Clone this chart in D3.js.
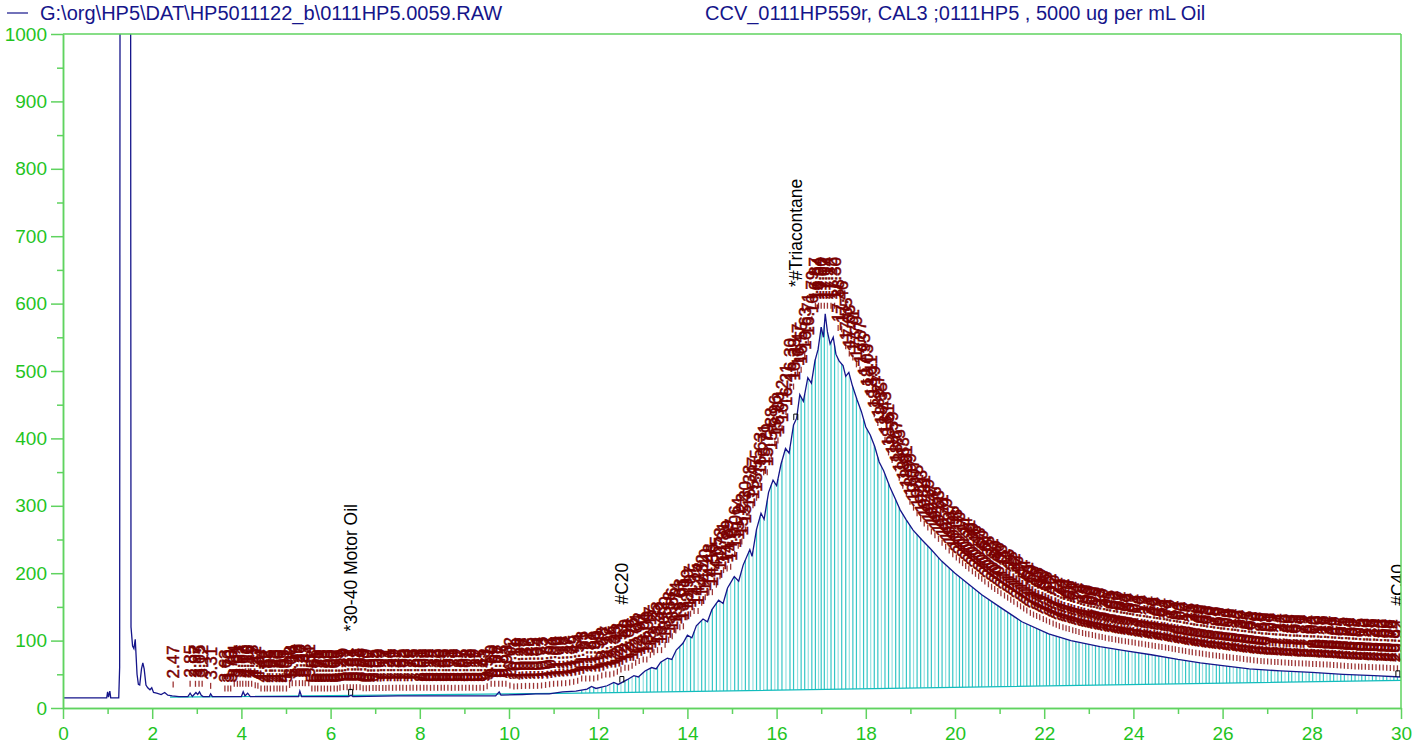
<!DOCTYPE html>
<html>
<head>
<meta charset="utf-8">
<title>Chromatogram</title>
<script src="https://d3js.org/d3.v7.min.js"></script>
<style>
  body { margin: 0; background: #fff; }
  text { font-family: "Liberation Sans", Arial, Helvetica, sans-serif; }
</style>
</head>
<body>
<svg id="chart" width="1424" height="747"></svg>
<script>
// detector signal: [minutes, response]
const signal = [
  [0,15],[0.98,15],[1.00,24],[1.02,16],[1.05,25],[1.07,15],[1.25,15],[1.27,60],[1.28,1200],[1.515,1200],
  [1.525,120],[1.56,92],[1.59,88],[1.62,102],[1.66,50],[1.69,35],[1.72,34],[1.76,58],[1.79,67],[1.82,58],
  [1.86,34],[1.9,30],[1.95,27],[1.99,30],[2.03,23],[2.1,22],[2.2,20],[2.28,23],[2.35,19],[2.45,18],
  [2.6,17],[2.8,17],[2.85,22],[2.9,17],[2.98,23],[3.02,20],[3.06,24],[3.1,19],[3.14,17],[3.28,17],
  [3.31,21],[3.35,17],[4.0,17],[4.04,24],[4.08,18],[4.14,22],[4.2,17],[5.28,17],[5.31,25],[5.35,17],
  [6.4,17],[6.46,19],[6.5,17],[7.5,18],[8.5,18],[9.7,18],[9.78,24],[9.82,19],[10.3,20],[10.6,21],
  [10.9,21],[11.2,24],[11.5,25],[11.75,28],[11.85,32],[11.95,29],[12.2,33],[12.35,38],[12.45,35],[12.65,42],
  [12.8,48],[12.9,46],[13.05,55],[13.2,60],[13.3,58],[13.4,68],[13.55,74],[13.65,72],[13.75,86],[13.9,96],
  [14.0,108],[14.1,104],[14.2,122],[14.35,132],[14.45,128],[14.55,146],[14.7,160],[14.8,155],[14.9,178],[15.05,195],
  [15.15,188],[15.25,212],[15.4,235],[15.45,225],[15.55,265],[15.65,289],[15.72,280],[15.82,320],[15.92,338],[16.0,330],
  [16.1,362],[16.2,385],[16.28,378],[16.38,420],[16.45,430],[16.52,465],[16.6,455],[16.7,490],[16.78,482],[16.86,515],
  [16.93,532],[17.0,565],[17.05,550],[17.09,585],[17.14,558],[17.2,540],[17.27,550],[17.33,525],[17.4,515],[17.49,508],
  [17.55,492],[17.62,498],[17.7,478],[17.8,458],[17.9,440],[18.0,417],[18.1,405],[18.2,388],[18.3,365],[18.4,352],
  [18.54,328],[18.65,312],[18.77,294],[18.9,280],[19.06,264],[19.25,250],[19.44,237],[19.7,218],[20.0,200],[20.3,184],
  [20.6,168],[21.0,150],[21.5,128],[22.1,110],[22.6,100],[23.25,91],[23.8,85],[24.4,79],[25.0,72],[25.5,67],
  [26.0,63],[26.6,58],[27.3,55],[28.0,53],[28.7,50],[29.4,48],[30,46]
];

// integration baseline
const baseline = [[2.4,16],[11.6,22],[30,41]];

// retention times of the labelled peaks
const peaksEarly = [2.47,2.85,2.97,3.05,3.12,3.31];
const peaksFlat = [3.63,3.70,3.76,3.84,3.91,3.97,4.03,4.10,4.16,4.23,4.31,4.37,4.44,4.52,4.58,4.65,4.73,4.80,4.86,4.93,
  5.01,5.08,5.14,5.22,5.30,5.37,5.43,5.51,5.58,5.65,5.71,5.79,5.86,5.93,6.00,6.08,6.15,6.21,6.29,6.37,
  6.44,6.51,6.58,6.66,6.73,6.80,6.87,6.95,7.02,7.09,7.17,7.24,7.31,7.39,7.47,7.55,7.62,7.70,7.78,7.85,
  7.93,8.01,8.09,8.16,8.24,8.32,8.40,8.48,8.55,8.63,8.71,8.79,8.87,8.95,9.03,9.11,9.19,9.27,9.35,9.43,
  9.51,9.60,9.68,9.77,9.85,9.93];
const peaksRise = [10.02,10.11,10.19,10.28,10.37,10.46,10.55,10.64,10.73,10.82,10.91,11.00,11.09,11.18,11.27,11.36,
  11.45,11.54,11.63,11.72,11.81,11.90,11.99,12.08,12.17,12.26,12.35,12.43,12.51,12.60,12.68,12.76,12.84,12.92,
  13.01,13.09,13.17,13.25,13.33,13.42,13.50,13.58,13.66,13.74,13.83,13.91,13.99,14.07,14.15,14.24,14.32,14.40,
  14.48,14.56,14.65,14.73,14.81,14.89,14.97,15.06,15.14,15.22,15.30,15.38,15.47,15.55,15.63,15.71,15.79,15.88,15.96];
const peaksTop = [16.03,16.12,16.21,16.30,16.38,16.47,16.55,16.63,16.71,16.79,16.87,16.94,17.00,17.07,17.14,17.22,
  17.30,17.38,17.46,17.55,17.63,17.71,17.79,17.87,17.95,18.03,18.11,18.19,18.27,18.35,18.43,18.51,18.59,18.67,
  18.75,18.83,18.91,18.99,19.07,19.15,19.23,19.31,19.39,19.47,19.55,19.63,19.71,19.79,19.87,19.95];
const peaksTail = [20.03,20.10,20.17,20.24,20.31,20.39,20.46,20.53,20.60,20.67,20.75,20.82,20.89,20.96,21.03,21.11,
  21.18,21.25,21.32,21.40,21.47,21.54,21.61,21.69,21.76,21.83,21.90,21.98,22.05,22.12,22.20,22.27,22.34,22.42,
  22.49,22.56,22.64,22.71,22.78,22.86,22.93,23.00,23.08,23.15,23.23,23.30,23.37,23.45,23.52,23.60,23.67,23.74,
  23.82,23.89,23.97,24.04,24.12,24.19,24.27,24.34,24.42,24.49,24.57,24.64,24.72,24.79,24.87,24.94,25.02,25.10,
  25.17,25.25,25.32,25.40,25.48,25.55,25.63,25.70,25.78,25.86,25.93,26.01,26.09,26.16,26.24,26.32,26.39,26.47,
  26.55,26.62,26.70,26.78,26.86,26.93,27.01,27.09,27.17,27.24,27.32,27.40,27.48,27.55,27.63,27.71,27.79,27.87,
  27.94,28.02,28.10,28.18,28.26,28.34,28.41,28.49,28.57,28.65,28.73,28.81,28.89,28.97,29.05,29.12,29.20,29.28,
  29.36,29.44,29.52,29.60,29.68,29.76,29.84,29.92];

// named compounds
const compounds = ["*30-40 Motor Oil", "#C20", "*#Triacontane", "#C40"];
const compoundTimes = [6.45, 12.53, 16.43, 29.93];

const xTickValues = [0,2,4,6,8,10,12,14,16,18,20,22,24,26,28,30];
const xMinorValues = [1,3,5,7,9,11,13,15,17,19,21,23,25,27,29];
const yTickValues = [0,100,200,300,400,500,600,700,800,900,1000];
const yMinorValues = [50,150,250,350,450,550,650,750,850,950];

const fileTitle = "G:\\org\\HP5\\DAT\\HP5011122_b\\0111HP5.0059.RAW";
const sampleTitle = "CCV_0111HP559r, CAL3 ;0111HP5 , 5000 ug per mL Oil";

// ---------------------------------------------------------------
const mLeft = 63, mRight = 1401, mTop = 34, mBottom = 708;
const green = "#5fd35f", greenText = "#1fc41f", navy = "#15158a", maroon = "#7a0000";

const svg = d3.select("#chart");

const x = d3.scaleLinear().domain([0, 30]).range([mLeft, mRight]);
const y = d3.scaleLinear().domain([0, 1000]).range([mBottom, mTop]);

// piecewise linear lookups through the read points
const sigAt = d3.scaleLinear().domain(signal.map(d => d[0])).range(signal.map(d => d[1])).clamp(true);
const baseAt = d3.scaleLinear().domain(baseline.map(d => d[0])).range(baseline.map(d => d[1])).clamp(true);

// a peak's label sits above the highest point of its integration window
const win = 0.22;
function apex(t) {
  const inside = signal.filter(p => p[0] >= t - win && p[0] <= t + win).map(p => p[1]);
  return d3.max([sigAt(t - win), sigAt(t + win), sigAt(t), ...inside]);
}

// header
svg.append("line").attr("x1", 7).attr("x2", 28).attr("y1", 13).attr("y2", 13)
   .attr("stroke", navy).attr("stroke-width", 1.2);
svg.append("text").attr("x", 40).attr("y", 20).attr("font-size", 20).attr("fill", navy).text(fileTitle);
svg.append("text").attr("x", 705).attr("y", 20).attr("font-size", 20).attr("fill", navy).text(sampleTitle);

svg.append("clipPath").attr("id", "plot")
   .append("rect").attr("x", mLeft).attr("y", mTop).attr("width", mRight - mLeft).attr("height", mBottom - mTop);

const plot = svg.append("g").attr("clip-path", "url(#plot)");

const peaks = [].concat(peaksEarly, peaksFlat, peaksRise, peaksTop, peaksTail);

// drop lines from the baseline to the trace
plot.selectAll("line.drop")
    .data(peaks.filter(t => t >= 11.6))
    .enter().append("line")
    .attr("class", "drop")
    .attr("x1", d => x(d)).attr("x2", d => x(d))
    .attr("y1", d => y(baseAt(d))).attr("y2", d => y(sigAt(d)))
    .attr("stroke", "#12bcbc")
    .attr("stroke-opacity", (d, i) => i % 3 === 1 ? 0.45 : 0.85)
    .attr("stroke-width", 1.2);

plot.append("path")
    .datum(baseline)
    .attr("fill", "none").attr("stroke", "#12bcbc").attr("stroke-width", 1.3)
    .attr("d", d3.line().x(d => x(d[0])).y(d => y(d[1])));

plot.append("path")
    .datum(signal)
    .attr("fill", "none").attr("stroke", navy).attr("stroke-width", 1.3)
    .attr("d", d3.line().x(d => x(d[0])).y(d => y(d[1])));

// peak ticks + retention time labels
plot.selectAll("line.tick")
    .data(peaks)
    .enter().append("line")
    .attr("class", "tick")
    .attr("x1", d => x(d)).attr("x2", d => x(d))
    .attr("y1", d => y(apex(d)) - 5).attr("y2", d => y(apex(d)) - 11)
    .attr("stroke", "#8b1010").attr("stroke-opacity", 0.85).attr("stroke-width", 1.3);

plot.selectAll("text.rt")
    .data(peaks)
    .enter().append("text")
    .attr("class", "rt")
    .attr("transform", d => `translate(${x(d)},${y(apex(d)) - 14}) rotate(-90)`)
    .attr("dy", "0.35em")
    .attr("font-size", 17)
    .attr("fill", maroon)
    .attr("stroke", maroon)
    .attr("stroke-width", 0.5)
    .text(d => d.toFixed(2));

// named compounds
const lift = [64, 78, 133, 71];
compounds.forEach((name, i) => {
  const t = compoundTimes[i], py = y(sigAt(t));
  plot.append("path")
      .attr("d", `M${x(t) - 2},${py} V${py - 6} H${x(t) + 2} V${py}`)
      .attr("fill", "none").attr("stroke", "#000").attr("stroke-width", 1);
  plot.append("text")
      .attr("transform", `translate(${x(t)},${py - lift[i]}) rotate(-90)`)
      .attr("dy", "0.35em")
      .attr("font-size", 17.5)
      .attr("fill", "#000")
      .text(name);
});

// axes
const xMinor = svg.append("g").attr("transform", `translate(0,${mBottom})`)
    .call(d3.axisBottom(x).tickValues(xMinorValues).tickSize(6).tickSizeOuter(0).tickFormat(""));
const xMajor = svg.append("g").attr("transform", `translate(0,${mBottom})`)
    .call(d3.axisBottom(x).tickValues(xTickValues).tickSize(11).tickSizeOuter(0).tickPadding(8));
const yMinor = svg.append("g").attr("transform", `translate(${mLeft},0)`)
    .call(d3.axisLeft(y).tickValues(yMinorValues).tickSize(6).tickSizeOuter(0).tickFormat(""));
const yMajor = svg.append("g").attr("transform", `translate(${mLeft},0)`)
    .call(d3.axisLeft(y).tickValues(yTickValues).tickSize(12).tickSizeOuter(0).tickPadding(4)
      .tickFormat(d3.format("d")));

[xMinor, xMajor, yMinor, yMajor].forEach(g => {
  g.selectAll("path, line").attr("stroke", green).attr("stroke-width", 1.5);
  g.selectAll("text").attr("fill", greenText).attr("font-size", 19)
   .attr("font-family", '"Liberation Sans", Arial, sans-serif');
});

// frame top + right
svg.append("line").attr("x1", mLeft).attr("x2", mRight).attr("y1", mTop).attr("y2", mTop)
   .attr("stroke", green).attr("stroke-width", 1.5);
svg.append("line").attr("x1", mRight).attr("x2", mRight).attr("y1", mTop).attr("y2", mBottom)
   .attr("stroke", green).attr("stroke-width", 1.5);
</script>
</body>
</html>
